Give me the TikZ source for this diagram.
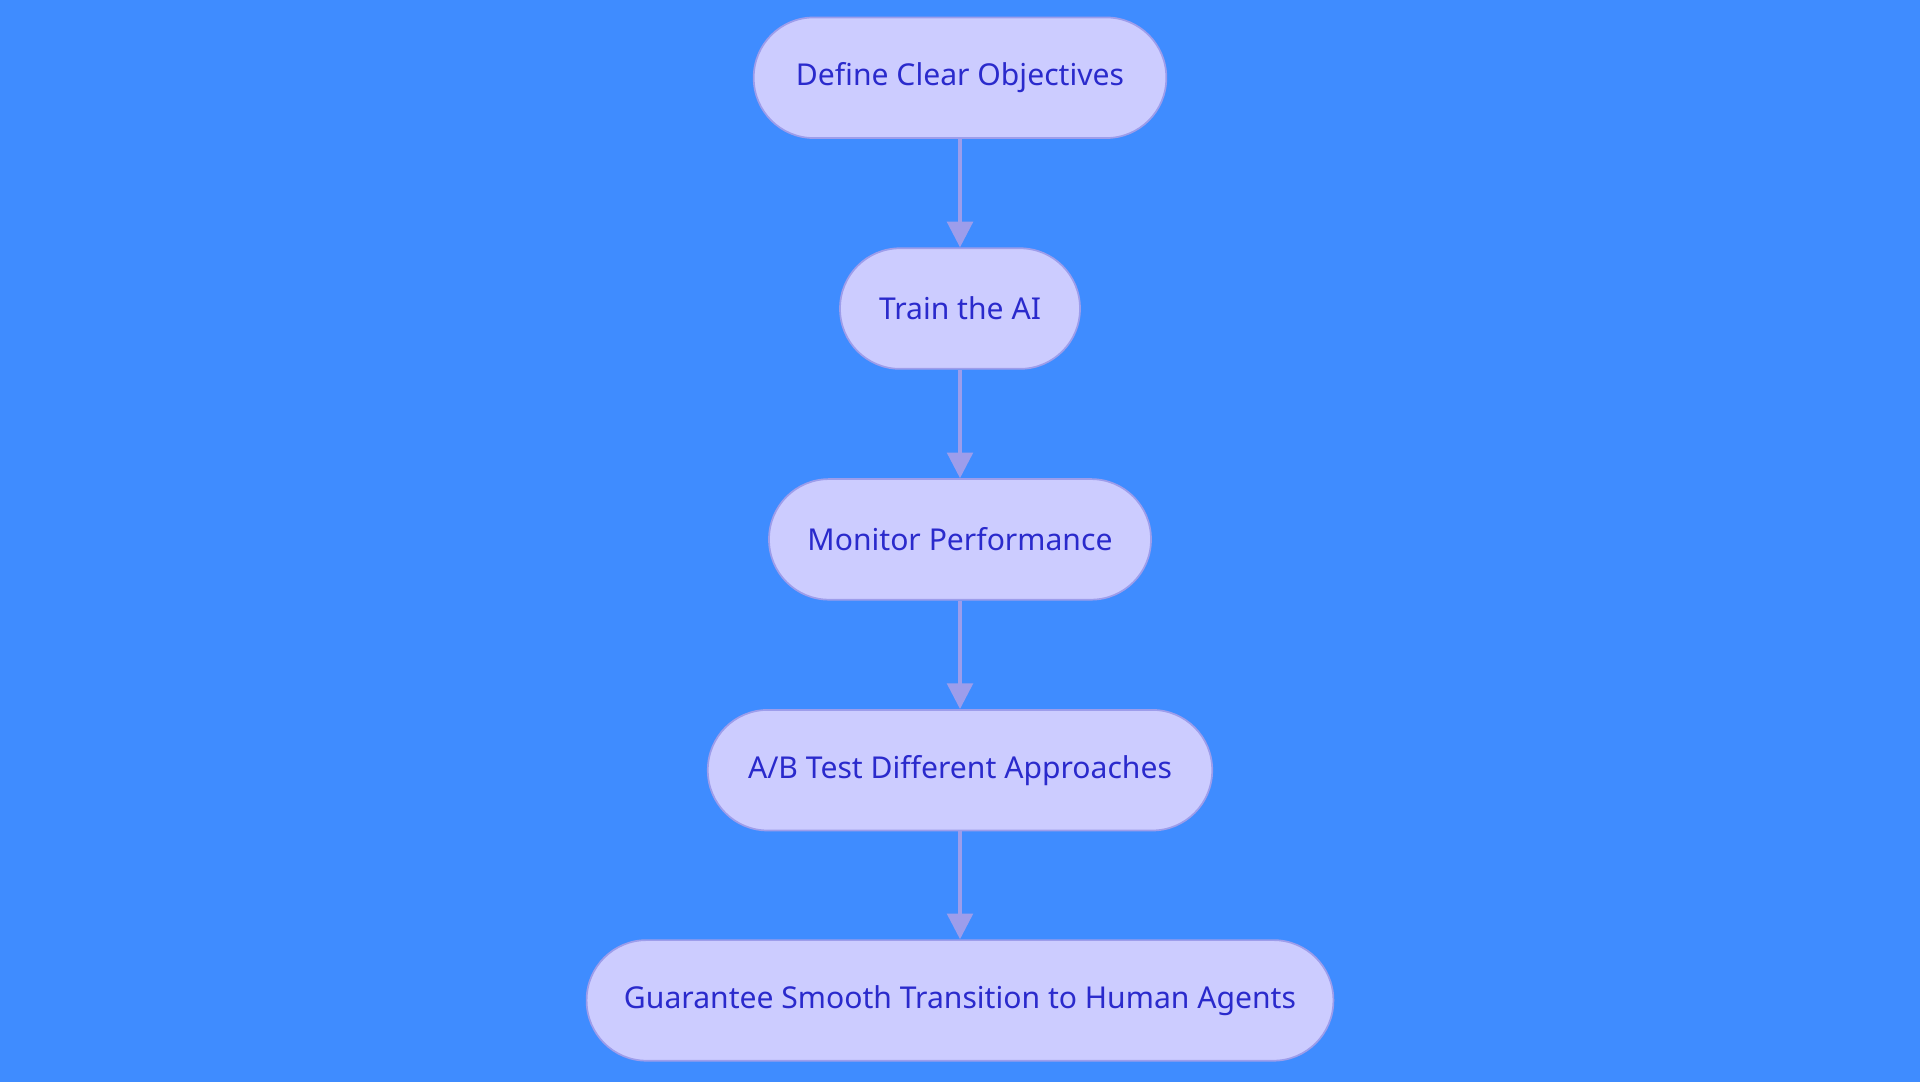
\documentclass[tikz,border=0pt]{standalone}
\usepackage{fontspec}
\setmainfont{Noto Sans}
\usetikzlibrary{positioning,arrows.meta}
\definecolor{bgblue}{HTML}{3F8CFF}
\definecolor{boxfill}{HTML}{CCCCFF}
\definecolor{boxline}{HTML}{9D9DEB}
\definecolor{boxtext}{HTML}{2A2ACC}
\tikzset{
	stage/.style={draw=boxline, fill=boxfill, text=boxtext, line width=0.8pt,
		rounded corners=0.98cm, minimum height=1.97cm, inner sep=0pt,
		font=\fontsize{14}{17}\selectfont},
	link/.style={draw=boxline, line width=1.6pt, -{Triangle[length=0.42cm, width=0.42cm]}}
}
\begin{document}
\begin{tikzpicture}[x=0.02cm,y=-0.02cm]
	\fill[bgblue] (0,0) rectangle (1568,884);
	\useasboundingbox (0,0) rectangle (1568,884);
	\node[stage, minimum width=6.74cm] (objectives) at (784,63.5) {Define Clear Objectives};
	\node[stage, minimum width=3.92cm] (train) at (784,252) {Train the AI};
	\node[stage, minimum width=6.24cm] (monitor) at (784,440.5) {Monitor Performance};
	\node[stage, minimum width=8.24cm] (abtest) at (784,629) {A/B Test Different Approaches};
	\node[stage, minimum width=12.2cm] (handoff) at (784,817) {Guarantee Smooth Transition to Human Agents};
	\draw[link] (objectives) -- (train);
	\draw[link] (train) -- (monitor);
	\draw[link] (monitor) -- (abtest);
	\draw[link] (abtest) -- (handoff);
\end{tikzpicture}
\end{document}
